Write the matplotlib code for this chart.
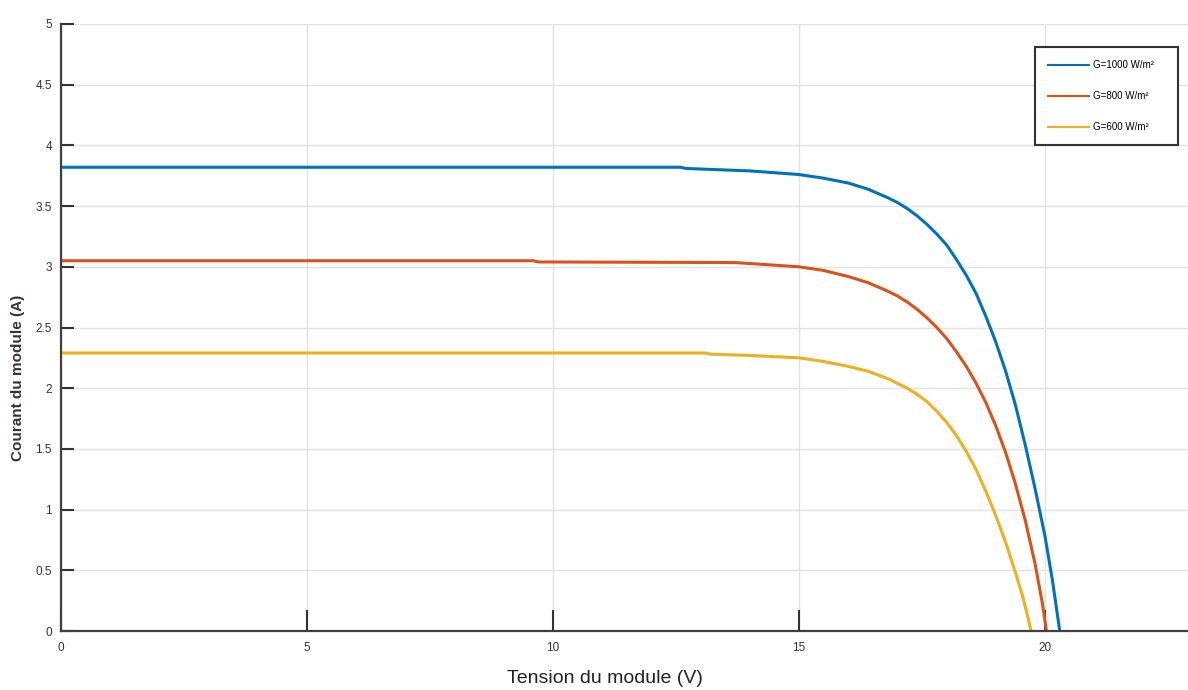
import numpy as np
import matplotlib
matplotlib.use("Agg")
import matplotlib.pyplot as plt

# I-V curves (V in volts, I in amps)
v_1000 = [0, 12.6, 12.7, 14.0, 15.0, 15.5, 16.0, 16.4, 16.8, 17.0, 17.2, 17.4, 17.6, 17.8,
          18.0, 18.2, 18.4, 18.6, 18.8, 19.0, 19.2, 19.4, 19.6, 19.8, 20.0, 20.15, 20.3]
i_1000 = [3.82, 3.82, 3.81, 3.79, 3.76, 3.73, 3.69, 3.64, 3.57, 3.53, 3.48, 3.42, 3.35, 3.27,
          3.18, 3.06, 2.93, 2.78, 2.59, 2.38, 2.14, 1.86, 1.53, 1.17, 0.78, 0.42, 0.0]

v_800 = [0, 9.6, 9.7, 13.7, 15.0, 15.5, 16.0, 16.4, 16.8, 17.0, 17.2, 17.4, 17.6, 17.8,
         18.0, 18.2, 18.4, 18.6, 18.8, 19.0, 19.2, 19.4, 19.6, 19.8, 19.95, 20.03]
i_800 = [3.05, 3.05, 3.04, 3.035, 3.00, 2.97, 2.92, 2.87, 2.80, 2.76, 2.71, 2.65, 2.58, 2.50,
         2.41, 2.30, 2.18, 2.04, 1.88, 1.69, 1.47, 1.21, 0.91, 0.55, 0.22, 0.0]

v_600 = [0, 13.1, 13.2, 14.0, 15.0, 15.5, 16.0, 16.4, 16.8, 17.0, 17.2, 17.4, 17.6, 17.8,
         18.0, 18.2, 18.4, 18.6, 18.8, 19.0, 19.2, 19.4, 19.55, 19.72]
i_600 = [2.29, 2.29, 2.28, 2.27, 2.25, 2.22, 2.18, 2.14, 2.08, 2.04, 2.00, 1.95, 1.89, 1.81,
         1.72, 1.61, 1.48, 1.33, 1.15, 0.95, 0.73, 0.48, 0.28, 0.0]

labels = ['G=1000 W/m²', 'G=800 W/m²', 'G=600 W/m²']
colors = ['#0072BD', '#D95319', '#EDB120']
xticks = [0, 5, 10, 15, 20]
yticks = np.arange(0, 5.01, 0.5)

W, H = 1188, 690
fig = plt.figure(figsize=(W / 100, H / 100), dpi=100)
# axes: x=0 at px 61, y=0 at px 631, y=5 at px 24, ~49.2 px per volt
axw = 23 * 49.2
ax = fig.add_axes([61 / W, (H - 631) / H, axw / W, 607 / H])

for v, i, c, lab in zip([v_1000, v_800, v_600], [i_1000, i_800, i_600], colors, labels):
    ax.plot(v, i, color=c, lw=2.2, label=lab, solid_joinstyle='round')

ax.set_xlim(0, 23)
ax.set_ylim(0, 5)
ax.set_xticks(xticks)
ax.set_yticks(yticks)
ax.set_xticklabels([str(t) for t in xticks], family='Liberation Sans', fontsize=8.5, color='#333333')
ax.set_yticklabels([f'{t:g}' for t in yticks], family='Liberation Sans', fontsize=8.5, color='#333333')
ax.tick_params(axis='x', direction='in', length=15, width=1.5, color='#333333', pad=8)
ax.tick_params(axis='y', direction='in', length=9.5, width=1.5, color='#333333', pad=6.5)

ax.grid(True, color='#e3e3e3', lw=1)
ax.set_axisbelow(True)
for s in ['top', 'right']:
    ax.spines[s].set_visible(False)
for s in ['left', 'bottom']:
    ax.spines[s].set_color('#404040')
    ax.spines[s].set_linewidth(1.6)

ax.set_xlabel('Tension du module (V)', fontsize=14, family='Liberation Sans', color='#222222')
ax.xaxis.set_label_coords((605 - 61) / axw, -(670 - 631) / 607)
ax.set_ylabel('Courant du module (A)', fontsize=11, family='Liberation Sans',
              fontweight='bold', color='#3a3030')
ax.yaxis.set_label_coords(-(61 - 25) / axw, (631 - 378) / 607)

leg = ax.legend(loc='upper left', mode='expand',
                bbox_to_anchor=(1035 / W, 1 - 150 / H, 143 / W, 103 / H),
                bbox_transform=fig.transFigure, borderaxespad=0,
                prop={'family': 'Liberation Sans', 'size': 7},
                handlelength=4.2, labelspacing=2.15, borderpad=1.35,
                handletextpad=0.4, fancybox=False, framealpha=1)
leg.get_frame().set_edgecolor('#333333')
leg.get_frame().set_linewidth(1.5)
for line in leg.get_lines():
    line.set_linewidth(1.5)

fig.savefig('out.png', dpi=100)
